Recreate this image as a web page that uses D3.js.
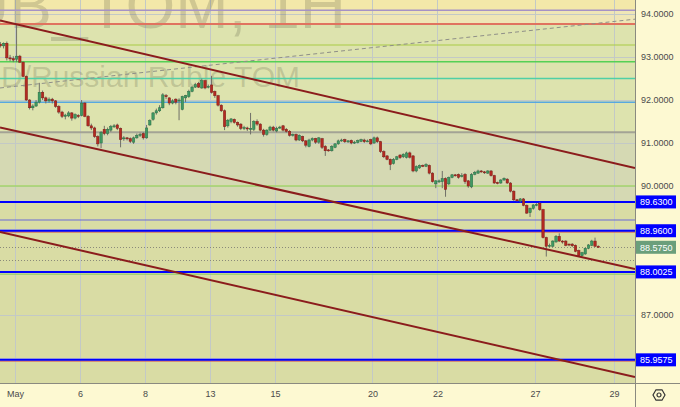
<!DOCTYPE html>
<html>
<head>
<meta charset="utf-8">
<script src="https://cdn.jsdelivr.net/npm/d3@7.9.0/dist/d3.min.js"></script>
<style>
  body { margin: 0; background: #fdf9d2; }
  svg { display: block; font-family: "Liberation Sans", Arial, sans-serif; }
</style>
</head>
<body>
<div id="chart"></div>
<script>
const width = 680;
const height = 407;
const plot = { left: 0, right: 635, top: 0, bottom: 383 };

// hourly candles [open, high, low, close], Apr 30 tail to May 28
const candles = [
  [93.30,93.35,93.22,93.26],[93.26,93.34,93.20,93.32],[93.32,93.36,92.92,92.98],[92.98,93.05,92.90,92.96],[92.96,93.02,92.88,92.93],
  [92.95,93.76,92.88,93.02],[93.02,93.05,92.86,92.88],[92.88,92.90,92.53,92.55],[92.55,92.57,91.98,92.00],[92.00,92.02,91.78,91.82],
  [91.82,91.90,91.76,91.86],[91.86,92.00,91.84,91.95],[91.95,92.40,91.92,92.18],[92.18,92.22,92.00,92.05],[92.05,92.08,91.92,91.98],
  [91.98,92.06,91.94,92.02],[92.02,92.05,91.92,91.98],[91.98,92.00,91.82,91.85],[91.85,91.88,91.68,91.72],[91.72,91.75,91.58,91.62],
  [91.62,91.68,91.55,91.65],[91.63,91.74,91.60,91.70],[91.70,91.72,91.52,91.58],[91.58,91.69,91.55,91.66],[91.64,91.67,91.58,91.62],
  [91.64,92.00,91.62,91.93],[91.93,91.95,91.60,91.62],[91.62,91.65,91.38,91.40],[91.40,91.45,91.30,91.35],[91.35,91.38,91.12,91.15],
  [91.15,91.18,90.92,90.98],[91.00,91.28,90.88,91.25],[91.32,91.40,91.18,91.22],[91.22,91.36,91.18,91.32],[91.30,91.42,91.26,91.38],
  [91.38,91.44,91.35,91.40],[91.42,91.45,91.30,91.34],[91.34,91.36,90.90,91.08],[91.10,91.16,91.05,91.12],[91.12,91.14,91.06,91.10],
  [91.10,91.13,91.00,91.04],[91.02,91.15,90.98,91.12],[91.12,91.22,91.10,91.18],[91.18,91.24,91.14,91.20],[91.22,91.25,91.08,91.12],
  [91.12,91.42,91.10,91.35],[91.42,91.55,91.40,91.52],[91.55,91.72,91.52,91.70],[91.70,91.80,91.66,91.75],[91.75,91.88,91.72,91.82],
  [91.82,92.16,91.80,92.12],[92.10,92.14,92.02,92.08],[92.05,92.06,91.88,91.93],[91.93,92.02,91.90,91.98],[92.02,92.04,91.90,91.95],
  [91.98,92.04,91.53,92.00],[91.78,92.10,91.76,92.08],[92.05,92.12,91.95,92.10],[92.08,92.24,92.05,92.20],[92.20,92.33,92.18,92.30],
  [92.30,92.40,92.28,92.36],[92.38,92.42,92.28,92.30],[92.28,92.50,92.26,92.45],[92.45,92.47,92.25,92.28],[92.30,92.36,92.27,92.32],
  [92.35,92.56,92.15,92.18],[92.20,92.22,92.05,92.10],[92.10,92.12,91.85,91.88],[91.88,91.90,91.72,91.75],[91.75,91.78,91.30,91.38],
  [91.40,91.56,91.36,91.53],[91.50,91.58,91.46,91.56],[91.55,91.57,91.45,91.48],[91.48,91.50,91.38,91.42],[91.44,91.46,91.30,91.34],
  [91.34,91.40,91.30,91.36],[91.35,91.38,91.28,91.33],[91.32,91.70,91.20,91.34],[91.32,91.53,91.28,91.50],[91.50,91.55,91.40,91.44],
  [91.44,91.46,91.27,91.30],[91.30,91.33,91.15,91.20],[91.20,91.32,91.17,91.30],[91.30,91.40,91.28,91.37],[91.37,91.40,91.27,91.30],
  [91.28,91.38,91.25,91.34],[91.35,91.40,91.33,91.37],[91.40,91.42,91.27,91.30],[91.32,91.35,91.24,91.27],[91.27,91.30,91.15,91.18],
  [91.18,91.22,91.15,91.20],[91.20,91.22,91.04,91.07],[91.07,91.20,91.05,91.18],[91.15,91.17,91.02,91.05],[91.05,91.07,90.90,90.95],
  [90.92,91.10,90.90,91.07],[91.07,91.13,91.04,91.10],[91.10,91.12,90.98,91.02],[91.02,91.14,90.98,91.12],[91.10,91.12,90.86,90.90],
  [90.92,90.95,90.70,90.82],[90.84,90.86,90.80,90.83],[90.82,90.95,90.80,90.92],[90.90,91.00,90.88,90.98],[90.98,91.08,90.96,91.05],
  [91.05,91.10,91.03,91.07],[91.08,91.10,91.00,91.03],[91.03,91.07,91.00,91.05],[91.06,91.08,90.97,91.00],[91.00,91.05,90.98,91.02],
  [91.01,91.08,90.99,91.06],[91.04,91.10,91.02,91.08],[91.07,91.10,91.00,91.03],[91.04,91.08,91.02,91.05],[91.08,91.10,90.95,90.98],
  [91.00,91.15,90.98,91.12],[91.12,91.15,91.00,91.03],[91.03,91.05,90.77,90.80],[90.80,90.83,90.65,90.68],[90.70,90.72,90.60,90.62],
  [90.62,90.64,90.37,90.50],[90.52,90.65,90.50,90.62],[90.62,90.70,90.60,90.68],[90.72,90.74,90.63,90.66],[90.68,90.76,90.65,90.74],
  [90.66,90.80,90.64,90.77],[90.77,90.80,90.64,90.67],[90.70,90.72,90.32,90.35],[90.35,90.48,90.32,90.45],[90.42,90.50,90.40,90.48],
  [90.48,90.50,90.44,90.47],[90.46,90.53,90.44,90.50],[90.48,90.50,90.27,90.30],[90.30,90.32,90.08,90.10],[90.05,90.14,89.95,90.12],
  [90.10,90.15,90.07,90.12],[90.10,90.35,89.95,90.17],[90.17,90.20,89.75,89.92],[90.05,90.22,90.02,90.20],[90.20,90.28,90.18,90.26],
  [90.26,90.28,90.22,90.25],[90.27,90.29,90.17,90.20],[90.22,90.30,90.20,90.24],[90.27,90.30,90.05,90.10],[90.12,90.14,89.96,90.00],
  [89.98,90.30,89.95,90.27],[90.27,90.35,90.25,90.32],[90.30,90.38,90.28,90.35],[90.35,90.37,90.31,90.34],[90.33,90.35,90.28,90.32],
  [90.30,90.37,90.28,90.35],[90.35,90.37,90.22,90.24],[90.24,90.26,90.05,90.07],[90.08,90.10,90.04,90.07],[90.07,90.16,90.05,90.14],
  [90.14,90.20,90.12,90.18],[90.16,90.18,90.05,90.07],[90.07,90.09,89.85,89.88],[89.88,89.90,89.65,89.68],[89.68,89.70,89.64,89.67],
  [89.65,89.72,89.62,89.70],[89.70,89.72,89.53,89.55],[89.55,89.57,89.35,89.37],[89.38,89.50,89.28,89.48],[89.48,89.58,89.45,89.56],
  [89.56,89.60,89.53,89.57],[89.60,89.62,89.42,89.45],[89.45,89.47,88.78,88.80],[88.80,88.82,88.36,88.60],[88.60,88.66,88.58,88.62],
  [88.60,88.74,88.58,88.72],[88.70,88.86,88.68,88.83],[88.83,88.90,88.70,88.72],[88.72,88.74,88.66,88.70],[88.72,88.74,88.60,88.62],
  [88.65,88.66,88.60,88.63],[88.65,88.67,88.58,88.61],[88.62,88.64,88.46,88.48],[88.50,88.52,88.35,88.38],[88.38,88.47,88.36,88.45],
  [88.42,88.57,88.40,88.55],[88.55,88.65,88.53,88.63],[88.62,88.75,88.60,88.72],[88.72,88.80,88.58,88.60],[88.60,88.62,88.56,88.575]
];

// date axis (candle index where each labelled day starts)
const dayTicks = [4.5, 24.5, 44.5, 64.5, 84.5, 114.5, 134.5, 164.5, 188.8];
const dayLabels = ['May', '6', '8', '13', '15', '20', '22', '27', '29'];

const priceTicks = [94, 93, 92, 91, 90, 87];
const gridPrices = [94, 93, 92, 91, 90, 89, 88, 87, 86];

// shaded price zones [top, bottom]
const zones = [[94.33, 94.09], [94.09, 93.77], [93.77, 91.25], [91.25, 89.63], [89.63, 85.40]];
const zoneColors = ['#f3e8a9', '#efe6b6', '#dde3ae', '#d5d9b3', '#d9dca4'];

// horizontal levels
const levels = [94.09, 93.77, 93.28, 92.89, 92.50, 91.95, 91.25, 90.00, 89.63, 89.21, 88.93, 88.96, 87.95, 88.0025, 85.93, 85.9575];
const levelColors = ['#a592c6', '#e0735f', '#a9cc45', '#55d055', '#4fd0a6', '#58a8e0', '#a3a395', '#a5d46a',
  '#0000ff', '#6a6ad8', '#d04848', '#0000ff', '#86c860', '#0000ff', '#d04848', '#0000ff'];
const levelWidths = [1.5, 2, 1.2, 1.5, 1.5, 1.5, 2, 1.5, 2, 1.2, 1, 2, 1, 2, 1, 2];

const dottedLevels = [88.575, 88.28];

// labelled prices on the right scale
const markedPrices = [89.63, 88.96, 88.575, 88.0025, 85.9575];
const markedColors = ['#0000ff', '#0000ff', '#6b9f7b', '#0000ff', '#0000ff'];

// drawn channel lines [[index, price], [index, price]]
const trendLines = [
  [[-0.1, 93.85], [195.3, 90.42]],
  [[-0.1, 91.36], [195.3, 88.07]],
  [[-0.1, 88.93], [195.3, 85.56]]
];
const dashedLine = [[-0.1, 92.28], [195.3, 93.88]];

const x = d3.scaleLinear().domain([-0.1, 195.3]).range([plot.left, plot.right]);
const y = d3.scaleLinear().domain([94.326, 85.419]).range([plot.top, plot.bottom]);

const svg = d3.select('#chart').append('svg')
  .attr('width', width).attr('height', height)
  .attr('viewBox', `0 0 ${width} ${height}`);

svg.append('rect').attr('width', width).attr('height', height).attr('fill', '#fdf9d2');

svg.append('clipPath').attr('id', 'clip')
  .append('rect').attr('x', plot.left).attr('y', plot.top)
  .attr('width', plot.right - plot.left).attr('height', plot.bottom - plot.top);

const g = svg.append('g').attr('clip-path', 'url(#clip)');

// zones
g.selectAll('.zone').data(zones).join('rect')
  .attr('x', plot.left).attr('width', plot.right - plot.left)
  .attr('y', d => y(d[0])).attr('height', d => y(d[1]) - y(d[0]))
  .attr('fill', (d, i) => zoneColors[i]);

// grid
g.selectAll('.hgrid').data(gridPrices).join('line')
  .attr('x1', plot.left).attr('x2', plot.right)
  .attr('y1', d => Math.round(y(d)) + 0.5).attr('y2', d => Math.round(y(d)) + 0.5)
  .attr('stroke', '#c3c9c6').attr('stroke-width', 1);
g.selectAll('.vgrid').data(dayTicks).join('line')
  .attr('x1', d => Math.round(x(d)) + 0.5).attr('x2', d => Math.round(x(d)) + 0.5)
  .attr('y1', plot.top).attr('y2', plot.bottom)
  .attr('stroke', '#c3c9c6').attr('stroke-width', 1);

// watermark (symbol line is cut by the top edge, as in the source)
g.append('text').attr('x', 346).attr('y', 28).attr('text-anchor', 'end')
  .attr('font-size', 64).attr('fill', 'rgba(70,70,50,0.2)').text('USDRUB_TOM, 1H');
g.append('text').attr('x', 300).attr('y', 87).attr('text-anchor', 'end')
  .attr('font-size', 30).attr('fill', 'rgba(70,70,50,0.2)').text('USD/Russian Ruble TOM');

// horizontal levels
g.selectAll('.level').data(levels).join('line')
  .attr('x1', plot.left).attr('x2', plot.right)
  .attr('y1', d => y(d)).attr('y2', d => y(d))
  .attr('stroke', (d, i) => levelColors[i])
  .attr('stroke-width', (d, i) => levelWidths[i]);

g.selectAll('.dotted').data(dottedLevels).join('line')
  .attr('x1', plot.left).attr('x2', plot.right)
  .attr('y1', d => Math.round(y(d)) + 0.5).attr('y2', d => Math.round(y(d)) + 0.5)
  .attr('stroke', '#8a8a7a').attr('stroke-width', 1).attr('stroke-dasharray', '1,2');

const line = d3.line().x(d => x(d[0])).y(d => y(d[1]));

g.append('path').datum(dashedLine).attr('d', line)
  .attr('fill', 'none').attr('stroke', '#8f8f88').attr('stroke-width', 1).attr('stroke-dasharray', '4,3');

// candles
const bw = 2.4;
const cg = g.append('g');
candles.forEach((c, i) => {
  const [o, h, l, cl] = c;
  const up = cl >= o;
  const cx = x(i);
  cg.append('line')
    .attr('x1', cx).attr('x2', cx).attr('y1', y(h)).attr('y2', y(l))
    .attr('stroke', '#707068').attr('stroke-width', 1);
  const top = y(Math.max(o, cl));
  const hgt = Math.max(1, Math.abs(y(o) - y(cl)));
  cg.append('rect')
    .attr('x', cx - bw / 2).attr('y', top).attr('width', bw).attr('height', hgt)
    .attr('fill', up ? '#3f9a63' : '#b42a22')
    .attr('stroke', up ? '#2a6e44' : '#7e1c16').attr('stroke-width', 0.5);
});

g.selectAll('.trend').data(trendLines).join('path')
  .attr('d', line).attr('fill', 'none')
  .attr('stroke', '#8b1c1c').attr('stroke-width', 2);

// axes
const yAxis = svg.append('g').attr('transform', `translate(${plot.right},0)`)
  .call(d3.axisRight(y).tickValues(priceTicks).tickFormat(d3.format('.4f')).tickSize(0).tickPadding(6));
yAxis.select('.domain').remove();
yAxis.selectAll('text').attr('font-size', 9).attr('fill', '#4a4a4a')
  .attr('font-family', '"Liberation Sans", Arial, sans-serif');

const xAxis = svg.append('g').attr('transform', `translate(0,${plot.bottom})`)
  .call(d3.axisBottom(x).tickValues(dayTicks).tickFormat((d, i) => dayLabels[i]).tickSize(0).tickPadding(8));
xAxis.select('.domain').remove();
xAxis.selectAll('text').attr('font-size', 9).attr('fill', '#4a4a4a')
  .attr('font-family', '"Liberation Sans", Arial, sans-serif');

// price labels
const pl = svg.append('g');
markedPrices.forEach((p, i) => {
  pl.append('rect').attr('x', plot.right).attr('y', y(p) - 6.5)
    .attr('width', 41).attr('height', 13).attr('fill', markedColors[i]);
  pl.append('text').attr('x', plot.right + 5).attr('y', y(p) + 3.3)
    .attr('font-size', 9).attr('fill', '#fff').text(d3.format('.4f')(p));
});

// borders
svg.append('line').attr('x1', plot.right + 0.5).attr('x2', plot.right + 0.5)
  .attr('y1', 0).attr('y2', height).attr('stroke', '#8a8a80');
svg.append('line').attr('x1', 0).attr('x2', width)
  .attr('y1', plot.bottom + 0.5).attr('y2', plot.bottom + 0.5).attr('stroke', '#8a8a80');

// settings icon
const gear = svg.append('g').attr('transform', 'translate(659,395)');
gear.append('path')
  .attr('d', d3.line()(d3.range(6).map(k => [6 * Math.cos(Math.PI / 3 * k), 6 * Math.sin(Math.PI / 3 * k)])) + 'Z')
  .attr('fill', 'none').attr('stroke', '#333').attr('stroke-width', 1.2);
gear.append('circle').attr('r', 2).attr('fill', 'none').attr('stroke', '#333').attr('stroke-width', 1.2);
</script>
</body>
</html>
